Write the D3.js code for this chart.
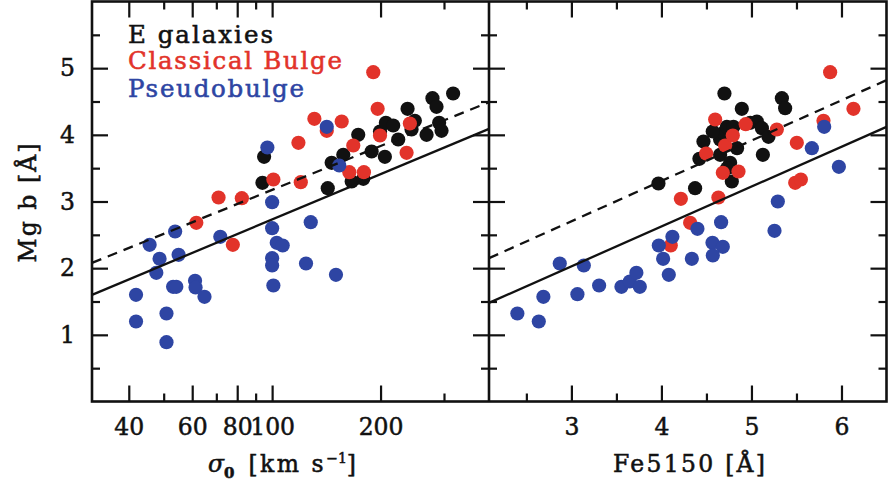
<!DOCTYPE html>
<html><head><meta charset="utf-8">
<script src="https://cdn.jsdelivr.net/npm/d3@7"></script>
<style>
html,body{margin:0;padding:0;background:#fff;}
svg{display:block;}
</style></head>
<body>
<svg id="c" width="888" height="482"></svg>
<script>
// ---------- DATA ----------
// Left panel: sigma_0 [km/s] vs Mg b [A]
const sigmaE = [95.0,94.0,142.7,146.3,157.6,166.3,179.1,173.4,188.9,205.6,199.3,206.9,216.8,223.9,237.7,249,243.8,268.4,278.7,286,318,290.8,295.3];
const mgbE_sigma = [3.67,3.28,3.20,3.58,3.70,3.30,3.34,4.00,3.75,3.67,4.05,4.18,4.14,3.93,4.39,4.21,4.08,4.00,4.55,4.42,4.62,4.18,4.06];

const sigmaC = [61.6,71.0,82.4,77.8,100.8,120.1,118.3,131,141.8,156,168,163.8,179.8,190.9,196.3,199.3,241.2,236.2];
const mgbC_sigma = [2.68,3.06,3.05,2.35,3.33,3.29,3.88,4.24,4.06,4.20,3.84,3.44,3.44,4.94,4.39,3.99,4.17,3.73];

const sigmaP = [41.9,41.9,45.7,48.7,47.7,53.8,55.0,53.1,54.2,50.9,50.9,61.1,61.3,64.9,71.8,100,100,103,107,100,100,100.8,97,124.2,128,150.4,141.8,153.6];
const mgbP_sigma = [1.60,1.20,2.35,2.14,1.93,2.55,2.20,1.72,1.72,1.32,0.89,1.81,1.71,1.57,2.47,2.99,2.60,2.38,2.34,2.15,2.04,1.74,3.81,2.07,2.69,1.90,4.12,3.54];

// Right panel: Fe5150 [A] vs Mg b [A]
const feE = [3.967,4.374,4.422,4.467,4.652,4.763,4.782,4.652,4.689,4.727,4.80,4.70,4.893,4.986,5.06,5.116,5.189,5.127,5.338,5.374,4.57,4.84,4.73];
const mgbE_fe = [3.27,3.20,3.64,3.90,3.70,3.58,3.30,3.93,4.03,4.12,4.12,4.62,4.39,4.18,4.20,4.10,3.97,3.70,4.55,4.40,4.05,3.80,3.50];

const feC = [4.104,4.216,4.319,4.633,4.497,4.708,4.793,4.597,4.936,5.282,4.682,4.856,5.504,5.486,5.549,5.80,5.874,6.133];
const mgbC_fe = [2.34,3.04,2.68,3.06,3.72,3.84,3.99,4.23,4.16,4.08,3.43,3.45,3.88,3.28,3.33,4.21,4.94,4.39];

const feP = [2.40,2.638,2.871,3.138,2.689,3.067,3.308,3.556,3.649,3.722,3.76,3.971,4.122,4.019,4.082,4.338,4.40,4.663,4.567,4.682,4.571,5.256,5.293,5.671,5.808,5.971];
const mgbP_fe = [1.32,1.20,2.07,2.04,1.57,1.61,1.74,1.72,1.80,1.93,1.72,2.34,2.47,2.14,1.90,2.14,2.59,2.69,2.38,2.32,2.19,2.56,3.00,3.80,4.12,3.52];

// Relation lines (endpoints at the panel edges)
const sigmaSolid = [[31.62,1.60],[400,4.09]];
const sigmaDashed = [[31.62,2.08],[400,4.49]];
const feSolid = [[2.085,1.48],[6.5,4.12]];
const feDashed = [[2.085,2.15],[6.5,4.82]];

// Ticks
const yMajor = [1,2,3,4,5];
const yMinor = [0.5,1.5,2.5,3.5,4.5,5.5];
const sigmaMajor = [40,60,80,100,200];
const sigmaMinor = [50,70,90,300];
const feMajor = [3,4,5,6];
const feMinor = [2.5,3.5,4.5,5.5];

const legendLabels = ["E galaxies","Classical Bulge","Pseudobulge"];
const colors = {E:"#111111", C:"#e2332a", P:"#2e45a3"};

// ---------- DRAW ----------
const svg = d3.select("#c");
const FONT = "DejaVu Serif";
const yTop = 1.5, yBot = 401.5;
const L0 = 92, MID = 489, R1 = 886.5;

const y = d3.scaleLinear().domain([0,6]).range([yBot, yTop]);
const xL = d3.scaleLog().domain([31.62,400]).range([L0, MID]);
const xR = d3.scaleLinear().domain([2.085,6.5]).range([MID, R1]);

function thick(sel, col){ return sel.attr("stroke", col||"#111").attr("stroke-width",0.55); }

function styleAxis(g, size){
  g.select(".domain").remove();
  g.selectAll(".tick line").attr("stroke","#111").attr("stroke-width",2.2);
  g.selectAll("text").attr("font-family",FONT).attr("font-size",size||23).attr("fill","#111")
    .attr("stroke","#111").attr("stroke-width",0.5);
}

function panelAxes(x, xMaj, xMin, left, right, showY){
  svg.append("g").attr("transform",`translate(0,${yBot})`)
    .call(d3.axisBottom(x).tickValues(xMaj).tickSize(-16).tickPadding(17).tickFormat(d3.format("d")))
    .call(g=>styleAxis(g,23.5));
  svg.append("g").attr("transform",`translate(0,${yBot})`)
    .call(d3.axisBottom(x).tickValues(xMin).tickSize(-8).tickFormat(""))
    .call(g=>styleAxis(g));
  svg.append("g").attr("transform",`translate(0,${yTop})`)
    .call(d3.axisTop(x).tickValues(xMaj).tickSize(-16).tickFormat(""))
    .call(g=>styleAxis(g));
  svg.append("g").attr("transform",`translate(0,${yTop})`)
    .call(d3.axisTop(x).tickValues(xMin).tickSize(-8).tickFormat(""))
    .call(g=>styleAxis(g));
  svg.append("g").attr("transform",`translate(${left},0)`)
    .call(d3.axisLeft(y).tickValues(yMajor).tickSize(-16).tickPadding(17).tickFormat(showY?d3.format("d"):""))
    .call(g=>styleAxis(g,23.5));
  svg.append("g").attr("transform",`translate(${left},0)`)
    .call(d3.axisLeft(y).tickValues(yMinor).tickSize(-8).tickFormat(""))
    .call(g=>styleAxis(g));
  svg.append("g").attr("transform",`translate(${right},0)`)
    .call(d3.axisRight(y).tickValues(yMajor).tickSize(-16).tickFormat(""))
    .call(g=>styleAxis(g));
  svg.append("g").attr("transform",`translate(${right},0)`)
    .call(d3.axisRight(y).tickValues(yMinor).tickSize(-8).tickFormat(""))
    .call(g=>styleAxis(g));
}

panelAxes(xL, sigmaMajor, sigmaMinor, L0, MID, true);
panelAxes(xR, feMajor, feMinor, MID, R1, false);

const R = 7.1;
function dots(x, xs, ys, col){
  svg.append("g").selectAll("circle").data(xs.map((v,i)=>[v,ys[i]])).join("circle")
    .attr("cx",d=>x(d[0])).attr("cy",d=>y(d[1])).attr("r",R).attr("fill",col);
}
dots(xL, sigmaE, mgbE_sigma, colors.E);
dots(xL, sigmaC, mgbC_sigma, colors.C);
dots(xL, sigmaP, mgbP_sigma, colors.P);
dots(xR, feE, mgbE_fe, colors.E);
dots(xR, feC, mgbC_fe, colors.C);
dots(xR, feP, mgbP_fe, colors.P);

function rel(x, pts, dashed){
  svg.append("path").datum(pts)
    .attr("d", d3.line().x(d=>x(d[0])).y(d=>y(d[1])))
    .attr("fill","none").attr("stroke","#111").attr("stroke-width",2.3)
    .attr("stroke-dasharray", dashed ? "10,7" : null);
}
rel(xL, sigmaSolid, false); rel(xL, sigmaDashed, true);
rel(xR, feSolid, false); rel(xR, feDashed, true);

svg.append("rect").attr("x",L0).attr("y",yTop).attr("width",R1-L0).attr("height",yBot-yTop)
  .attr("fill","none").attr("stroke","#111").attr("stroke-width",2.6);
svg.append("line").attr("x1",MID).attr("x2",MID).attr("y1",yTop).attr("y2",yBot)
  .attr("stroke","#111").attr("stroke-width",2.6);

const legCols = [colors.E, colors.C, colors.P];
const legY = [43, 68.5, 96.7];
const legW = [145, 214, 176];
legendLabels.forEach((t,i)=>{
  thick(svg.append("text").attr("x",128).attr("y",legY[i]).text(t)
    .attr("font-family",FONT).attr("font-size",24.5).attr("fill",legCols[i])
    .attr("textLength",legW[i]).attr("lengthAdjust","spacing"), legCols[i]);
});

thick(svg.append("text").attr("transform","translate(36,203) rotate(-90)")
  .attr("text-anchor","middle").attr("font-family",FONT).attr("font-size",23.5).attr("fill","#111")
  .attr("textLength",119).attr("lengthAdjust","spacing").text("Mg b [Å]"));

thick(svg.append("text").attr("x",613).attr("y",472)
  .attr("font-family",FONT).attr("font-size",23.5).attr("fill","#111")
  .attr("textLength",152).attr("lengthAdjust","spacing").text("Fe5150 [Å]"));

const sl = thick(svg.append("text").attr("x",208).attr("y",472)
  .attr("font-family",FONT).attr("font-size",23.5).attr("fill","#111"));
sl.append("tspan").attr("font-style","italic").text("σ");
sl.append("tspan").attr("font-size",15).attr("font-weight","bold").attr("dy",6).text("0");
sl.append("tspan").attr("dy",-6).attr("dx",4).attr("letter-spacing",2.5).text(" [km s");
sl.append("tspan").attr("font-size",14).attr("dy",-9).text("−1");
sl.append("tspan").attr("dy",9).text("]");
</script>
</body></html>
